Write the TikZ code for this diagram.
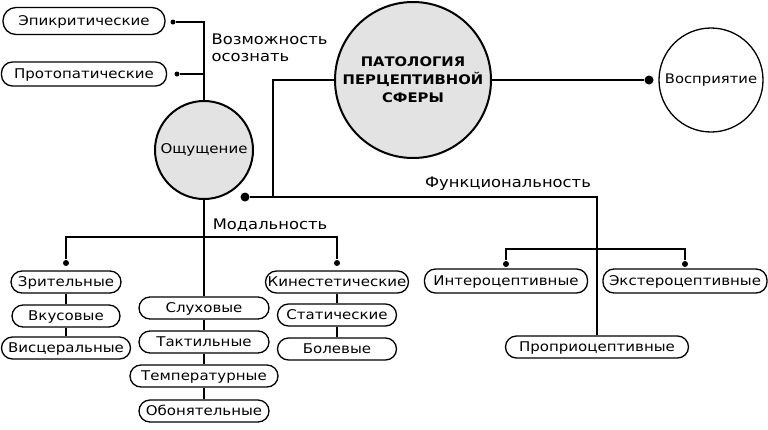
\documentclass[tikz,border=0pt]{standalone}
\usepackage{fontspec}
\setmainfont[FakeStretch=1.12]{DejaVu Sans}
\usepackage{tikz}
\definecolor{circfill}{HTML}{E3E3E3}

\begin{document}
\begin{tikzpicture}[x=1pt,y=-1pt,line width=1.3pt]
    \tikzstyle{pill}=[draw,rounded corners=11pt,fill=white,minimum height=22,inner sep=2pt,text height=10.5pt,text depth=1.5pt,font=\fontsize{13.4}{15}\selectfont]
    \tikzstyle{circ}=[circle,draw,line width=2pt,fill=circfill,inner sep=0pt]
    \tikzstyle{dot}=[circle,fill=black,inner sep=0pt,minimum size=6]
    \tikzstyle{bigdot}=[circle,fill=black,inner sep=0pt,minimum size=9]
    \tikzstyle{lbl}=[inner sep=0pt,font=\fontsize{14.6}{17}\selectfont]
    \useasboundingbox (0,0) rectangle (768,429);

    % circles
    \node[circ,minimum size=98,font=\fontsize{13.4}{15}\selectfont] (osh) at (204,150) {Ощущение};
    \node[circ,minimum size=156,align=center,font=\bfseries\fontsize{13.2}{18}\selectfont] (pat) at (413,80) {ПАТОЛОГИЯ\\ПЕРЦЕПТИВНОЙ\\СФЕРЫ};
    \node[circle,draw,line width=1.3pt,minimum size=104,inner sep=0pt,font=\fontsize{13.2}{15}\selectfont] (vos) at (711,80) {Восприятие};

    % top left
    \node[pill,minimum width=162,minimum height=27,rounded corners=13pt] (epi) at (84,21) {Эпикритические};
    \node[pill,minimum width=165,minimum height=24] (proto) at (84,74) {Протопатические};
    \node[dot,minimum size=5] (d-epi) at (173,22) {};
    \node[dot,minimum size=5] (d-proto) at (177,74) {};
    \draw (osh.north) |- (d-epi);
    \draw (d-proto) -- (d-proto -| osh.north);
    \node[lbl,anchor=north west,align=left] (vozm) at (211,33) {Возможность\\осознать};

    % perception
    \node[bigdot] (d-vos) at (649,80) {};
    \draw (pat.east) -- (d-vos);
    \node[bigdot] (d-osh) at (245,197) {};
    \coordinate (c-pat) at (273,197);
    \draw (pat.west) -| (c-pat);

    % modality
    \node[lbl] (modal) at (270,225) {Модальность};
    \foreach \name/\txt/\y/\w in {zr/Зрительные/282/110, vk/Вкусовые/316/108, visc/Висцеральные/348/129}
        \node[pill,minimum width=\w] (\name) at (66,\y) {\txt};
    \foreach \name/\txt/\y/\w in {sluh/Слуховые/308/130, takt/Тактильные/342/130, temp/Температурные/376/148, obon/Обонятельные/411/130}
        \node[pill,minimum width=\w] (\name) at (204,\y) {\txt};
    \foreach \name/\txt/\y/\w in {kin/Кинестетические/282/143, stat/Статические/315/119, bol/Болевые/349/119}
        \node[pill,minimum width=\w] (\name) at (337,\y) {\txt};
    \node[dot] (d-zr) at (66,263) {};
    \node[dot] (d-kin) at (337,263) {};
    \draw (d-zr) |- (204,237) -| (d-kin);
    \draw (osh.south) -- (sluh);
    \foreach \from/\to in {zr/vk, vk/visc, sluh/takt, takt/temp, temp/obon, kin/stat, stat/bol}
        \draw (\from) -- (\to);

    % functionality
    \node[lbl] (func) at (508,184) {Функциональность};
    \node[pill,minimum width=163,minimum height=24] (inter) at (506,281) {Интероцептивные};
    \node[pill,minimum width=164,minimum height=24] (ext) at (685,281) {Экстероцептивные};
    \node[pill,minimum width=183] (prop) at (597,347) {Проприоцептивные};
    \node[dot] (d-inter) at (506,264) {};
    \node[dot] (d-ext) at (685,264) {};
    \draw (d-inter) |- (596,249) -| (d-ext);
    \draw (d-osh) -| (prop.north);
\end{tikzpicture}
\end{document}
